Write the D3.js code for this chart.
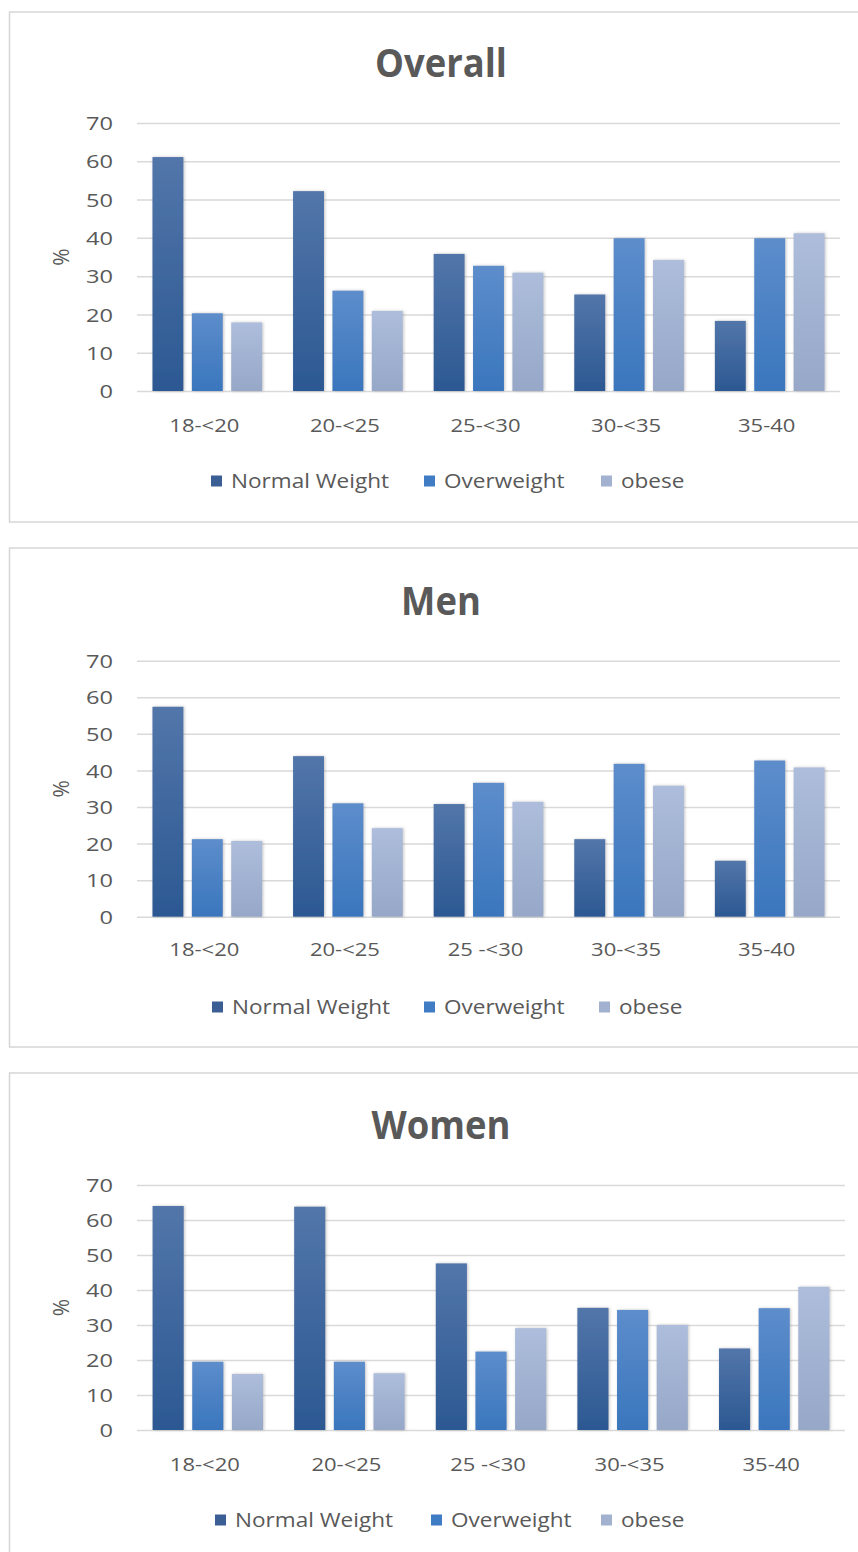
<!DOCTYPE html>
<html>
<head>
<meta charset="utf-8">
<script src="https://cdn.jsdelivr.net/npm/d3@7/dist/d3.min.js"></script>
<style>
  html, body { margin: 0; padding: 0; background: #ffffff; }
  svg { display: block; }
  text { font-family: "Open Sans", "DejaVu Sans", sans-serif; fill: #595959; }
</style>
</head>
<body>
<svg id="chart" width="858" height="1552"></svg>
<script>
// Age groups (BMI classes) on the x axis
const ageGroupsOverall = ["18-<20", "20-<25", "25-<30", "30-<35", "35-40"];
const ageGroupsSex = ["18-<20", "20-<25", "25 -<30", "30-<35", "35-40"];
const seriesNames = ["Normal Weight", "Overweight", "obese"];
const yTicks = [0, 10, 20, 30, 40, 50, 60, 70];
const panelTitles = ["Overall", "Men", "Women"];
const yAxisLabel = "%";

// Percentages per weight class
const overallNormal = [61.1, 52.2, 35.8, 25.2, 18.3];
const overallOverweight = [20.3, 26.2, 32.7, 39.9, 39.9];
const overallObese = [17.9, 20.9, 30.9, 34.2, 41.2];

const menNormal = [57.4, 43.9, 30.8, 21.2, 15.3];
const menOverweight = [21.2, 31.0, 36.6, 41.8, 42.7];
const menObese = [20.7, 24.2, 31.4, 35.8, 40.8];

const womenNormal = [64.0, 63.8, 47.6, 34.9, 23.3];
const womenOverweight = [19.5, 19.5, 22.4, 34.3, 34.8];
const womenObese = [16.0, 16.2, 29.1, 30.0, 40.9];

const svg = d3.select("#chart");

// Bar fills: vertical gradients per series, legend swatches use the mid tone
const fills = [
  { id: "gNormal", top: "#5276aa", bottom: "#2c5892", swatch: "#3b5f95" },
  { id: "gOver", top: "#5d8dcb", bottom: "#3a76bd", swatch: "#3f7cc3" },
  { id: "gObese", top: "#adbddb", bottom: "#96a7c8", swatch: "#a2b1cf" }
];
const defs = svg.append("defs");
fills.forEach(f => {
  const g = defs.append("linearGradient").attr("id", f.id)
    .attr("x1", 0).attr("y1", 0).attr("x2", 0).attr("y2", 1);
  g.append("stop").attr("offset", "0%").attr("stop-color", f.top);
  g.append("stop").attr("offset", "100%").attr("stop-color", f.bottom);
});
const shadow = defs.append("filter").attr("id", "barShadow")
  .attr("x", "-30%").attr("y", "-10%").attr("width", "160%").attr("height", "120%");
shadow.append("feDropShadow").attr("dx", 1).attr("dy", 0).attr("stdDeviation", 1.6)
  .attr("flood-color", "#7a7a7a").attr("flood-opacity", 0.45);

svg.append("rect").attr("width", 858).attr("height", 1552).attr("fill", "#ffffff");

// Stretch a text element horizontally by a factor
function stretch(sel, k) {
  sel.each(function () {
    const w = this.getComputedTextLength();
    d3.select(this).attr("textLength", w * k).attr("lengthAdjust", "spacingAndGlyphs");
  });
}
function measure(str, size, weight) {
  const t = svg.append("text").attr("font-size", size).attr("font-weight", weight || 400).text(str);
  const w = t.node().getComputedTextLength();
  t.remove();
  return w;
}
const kTitle = 136 / measure("Overall", 40, 700);
const kTick = 27 / measure("70", 18.5);
const kXLabel = 70 / measure("18-<20", 19);
const kLegend = 158 / measure("Normal Weight", 20);

const panels = [
  {
    title: panelTitles[0], cats: ageGroupsOverall,
    values: [overallNormal, overallOverweight, overallObese],
    box: [9.5, 12, 870, 522], titleY: 77,
    plot: { left: 137, right: 840, top: 123, bottom: 391 },
    xLabelY: 432, legendY: 481, legendX: [211, 424, 601]
  },
  {
    title: panelTitles[1], cats: ageGroupsSex,
    values: [menNormal, menOverweight, menObese],
    box: [9.5, 548, 870, 1047], titleY: 615,
    plot: { left: 137, right: 840, top: 660.7, bottom: 916.7 },
    xLabelY: 956, legendY: 1007, legendX: [212, 424, 599]
  },
  {
    title: panelTitles[2], cats: ageGroupsSex,
    values: [womenNormal, womenOverweight, womenObese],
    box: [9.5, 1073, 870, 1570], titleY: 1139,
    plot: { left: 137, right: 845, top: 1185, bottom: 1430 },
    xLabelY: 1471, legendY: 1520, legendX: [215, 431, 601]
  }
];

panels.forEach(p => {
  const g = svg.append("g");
  // panel frame
  g.append("rect")
    .attr("x", p.box[0]).attr("y", p.box[1])
    .attr("width", p.box[2] - p.box[0]).attr("height", p.box[3] - p.box[1])
    .attr("fill", "#ffffff").attr("stroke", "#d6d6d6").attr("stroke-width", 1.5);

  // title
  const t = g.append("text")
    .attr("x", 441).attr("y", p.titleY)
    .attr("text-anchor", "middle").attr("font-size", 40).attr("font-weight", 700)
    .text(p.title);
  stretch(t, kTitle * 0.97);

  const y = d3.scaleLinear().domain([0, 70]).range([p.plot.bottom, p.plot.top]);
  const x0 = d3.scaleBand().domain(p.cats).range([p.plot.left, p.plot.right])
    .paddingInner(0.22).paddingOuter(0.11);
  const x1 = d3.scaleBand().domain(seriesNames).range([0, x0.bandwidth()])
    .paddingInner(0.215).paddingOuter(0);

  // gridlines + y tick labels
  const yAxis = d3.axisLeft(y).tickValues(yTicks).tickSize(-(p.plot.right - p.plot.left)).tickPadding(24);
  const ya = g.append("g").attr("transform", `translate(${p.plot.left},0)`).call(yAxis);
  ya.select(".domain").remove();
  ya.selectAll(".tick line").attr("stroke", "#d9d9d9").attr("stroke-width", 1.5);
  ya.selectAll(".tick text").attr("font-size", 18.5).attr("font-family", null)
    .style("fill", "#595959").attr("dy", "0.36em");
  stretch(ya.selectAll(".tick text"), kTick);

  // y axis title
  g.append("text")
    .attr("transform", `translate(69,${(p.plot.top + p.plot.bottom) / 2}) rotate(-90)`)
    .attr("text-anchor", "middle").attr("font-size", 21)
    .text(yAxisLabel);

  // bars
  seriesNames.forEach((s, si) => {
    g.append("g").selectAll("rect")
      .data(p.cats.map((c, ci) => ({ cat: c, v: p.values[si][ci] })))
      .join("rect")
      .attr("x", d => x0(d.cat) + x1(s))
      .attr("y", d => y(d.v))
      .attr("width", x1.bandwidth())
      .attr("height", d => y(0) - y(d.v))
      .attr("fill", `url(#${fills[si].id})`)
      .attr("filter", "url(#barShadow)");
  });

  // x category labels
  const xl = g.append("g").selectAll("text")
    .data(p.cats).join("text")
    .attr("x", d => x0(d) + x0.bandwidth() / 2 - 3)
    .attr("y", p.xLabelY)
    .attr("text-anchor", "middle").attr("font-size", 19)
    .text(d => d);
  stretch(xl, kXLabel);

  // legend
  const lg = g.append("g");
  seriesNames.forEach((s, si) => {
    const lx = p.legendX[si];
    lg.append("rect").attr("x", lx).attr("y", p.legendY - 5.5)
      .attr("width", 11).attr("height", 11).attr("fill", fills[si].swatch);
    const lt = lg.append("text").attr("x", lx + 20).attr("y", p.legendY + 7)
      .attr("font-size", 20).text(s);
    stretch(lt, kLegend);
  });
});
</script>
</body>
</html>
